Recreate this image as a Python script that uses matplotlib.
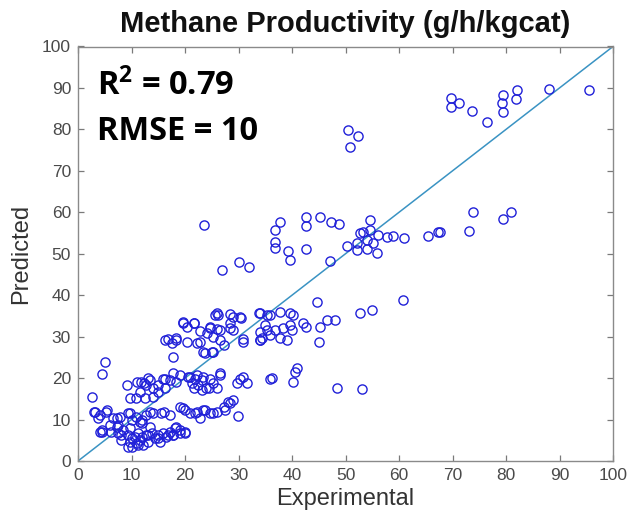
import matplotlib
matplotlib.use("Agg")
import matplotlib.pyplot as plt

plt.rcParams["mathtext.fontset"] = "custom"
plt.rcParams["mathtext.rm"] = "Open Sans:bold"
plt.rcParams["mathtext.bf"] = "Open Sans:bold"
plt.rcParams["mathtext.it"] = "Open Sans:bold"

# ---- data ----
exp_vals = [
    69.7, 69.8, 71.3, 73.7, 76.4, 79.5, 79.3, 79.5, 82.0, 81.9, 88.1, 95.5,
    73.9, 79.5, 80.9, 73.0, 67.7,
    50.5, 52.3, 50.8, 23.5,
    37.8, 36.9, 42.6, 42.6, 45.2, 47.3, 48.7, 36.8, 36.8, 39.3, 39.6, 42.6, 47.1,
    50.2, 52.1, 52.7, 54.6, 54.6, 54.0, 52.1, 54.0, 55.8, 55.2, 56.1, 57.7, 58.9, 61.0, 65.5, 67.3, 53.3,
    44.6, 60.8, 52.7, 54.9, 42.7, 45.2, 46.5, 48.0, 42.1, 45.1,
    35.9, 37.8, 39.6, 40.2, 35.0, 36.8, 38.3, 39.6, 35.9, 37.8, 34.4, 39.0, 40.0,
    36.3, 40.2, 40.6, 41.0, 48.4, 53.0,
    26.9, 30.0, 32.0,
    25.6, 26.2, 28.4, 29.0, 30.5, 33.8, 35.3,
    19.6, 20.4, 21.6, 22.8, 24.1, 24.7, 25.9, 28.4, 29.0, 30.9, 30.9, 34.0, 35.3,
    16.3, 16.9, 17.5, 18.4, 20.3, 22.2, 23.7, 25.3, 26.5, 27.2, 17.7,
    5.0, 4.4, 2.6,
    9.2, 11.0, 11.6, 12.3, 12.8, 13.5, 14.1, 15.0, 15.9, 16.3, 17.2, 17.8, 18.4, 19.1,
    20.6, 21.3, 21.9, 22.5, 23.1, 24.0, 24.7, 25.3, 25.9, 26.5, 29.7, 30.9, 31.5, 35.9,
    2.9, 4.1, 5.4, 6.6, 7.9, 9.4, 10.0, 10.9, 11.9, 12.8, 14.1, 16.0, 17.2, 19.1, 20.0,
    20.9, 22.2, 23.4, 24.7, 25.9, 27.2, 28.4, 29.0, 29.9,
    4.1, 4.4, 6.0, 7.2, 7.5, 8.1, 8.5, 9.4, 9.7, 10.0, 10.7, 11.0, 11.3, 11.6, 11.9, 12.2,
    12.8, 13.1, 13.8, 14.4, 15.0, 15.3, 15.9, 16.5, 17.2, 17.8, 18.4, 19.1, 20.0, 11.9, 13.5, 9.7,
    9.7, 10.9, 11.8, 13.1, 15.0, 16.2, 12.5, 14.0, 3.1, 5.3, 3.7, 7.2, 9.7, 11.5, 13.4, 15.6,
    4.4, 6.2, 8.1, 10.0, 11.2, 9.3, 13.1, 15.0, 16.8, 7.5,
    20.9, 22.2, 23.4, 26.5, 21.6, 23.1, 24.4, 30.3,
    19.7, 21.9, 22.8, 23.7, 25.3, 27.5, 28.1, 18.1, 19.1, 20.0, 17.8,
    25.9, 30.3, 19.7, 21.6, 24.7, 26.5, 28.4, 25.3, 22.8, 18.4, 23.4, 25.0, 34.0, 34.0, 34.0,
]
pred_vals = [
    87.5, 85.5, 86.4, 84.4, 81.7, 88.3, 86.4, 84.1, 89.5, 87.3, 89.7, 89.5,
    60.0, 58.5, 60.0, 55.5, 55.2,
    79.9, 78.4, 75.8, 57.0,
    57.6, 55.7, 58.9, 56.8, 58.8, 57.7, 57.1, 52.9, 51.3, 50.7, 48.5, 51.1, 48.3,
    51.9, 52.5, 54.9, 58.1, 55.7, 53.3, 50.9, 51.1, 50.1, 52.5, 54.5, 54.1, 54.3, 53.7, 54.3, 55.2, 55.3,
    38.3, 38.8, 35.6, 36.4, 32.4, 32.4, 33.9, 33.9, 33.2, 28.6,
    35.2, 35.9, 35.7, 35.2, 32.8, 31.6, 32.1, 32.8, 30.4, 29.7, 29.7, 29.2, 31.6,
    20.1, 19.1, 21.5, 22.4, 17.7, 17.4,
    46.2, 48.1, 46.7,
    35.2, 35.2, 35.4, 34.8, 34.6, 35.6, 35.2,
    33.4, 32.4, 33.2, 31.4, 30.8, 32.4, 31.8, 33.2, 31.6, 29.4, 28.8, 29.2, 31.6,
    29.2, 29.5, 28.4, 29.2, 28.8, 28.5, 26.0, 26.4, 29.2, 28.0, 25.2,
    24.0, 20.9, 15.5,
    18.3, 19.1, 16.7, 18.7, 18.3, 19.5, 17.5, 16.7, 19.9, 17.5, 19.5, 21.2, 19.1, 20.7,
    20.3, 18.7, 19.9, 18.3, 19.5, 17.5, 19.9, 18.7, 17.5, 21.2, 18.7, 20.3, 18.7, 19.9,
    11.9, 11.1, 12.3, 10.3, 10.7, 11.5, 9.9, 10.7, 9.9, 11.1, 11.5, 11.9, 11.1, 13.1, 12.3,
    11.5, 11.9, 12.3, 11.5, 11.9, 13.1, 13.9, 14.7, 10.9,
    7.1, 7.5, 8.7, 8.3, 6.7, 5.1, 7.5, 6.3, 4.7, 3.4, 5.9, 4.3, 6.7, 5.1, 5.9, 3.9,
    6.3, 4.7, 6.7, 5.5, 6.3, 4.7, 6.7, 5.9, 7.1, 6.3, 8.3, 7.5, 6.7, 9.1, 8.3, 7.9,
    15.1, 15.1, 19.1, 20.0, 18.3, 19.9, 15.1, 15.5, 11.9, 11.9, 10.3, 10.3, 11.5, 9.5, 11.9, 11.5,
    7.1, 7.1, 6.3, 5.5, 3.9, 3.4, 6.3, 5.5, 6.3, 8.7,
    20.3, 20.7, 20.3, 20.7, 17.5, 17.1, 17.5, 19.9,
    12.7, 11.5, 10.3, 12.3, 11.5, 12.3, 14.3, 7.9, 6.7, 7.1, 6.3,
    35.6, 34.8, 33.6, 33.2, 32.0, 31.6, 32.0, 30.0, 28.8, 29.6, 26.4, 26.4, 35.6, 31.2, 29.2,
]
ref_line = [0, 100]
xticks = list(range(0, 101, 10))
yticks = list(range(0, 101, 10))
title_text = "Methane Productivity (g/h/kgcat)"
xlabel_text = "Experimental"
ylabel_text = "Predicted"
r2_text = r"R$^{2}$ = 0.79"
rmse_text = "RMSE = 10"

# ---- figure ----
W, H = 629, 518
fig = plt.figure(figsize=(W / 100, H / 100), dpi=100)
ax = fig.add_axes([78 / W, (H - 461) / H, 535 / W, 414.5 / H])

ax.plot(ref_line, ref_line, color="#3a93c3", lw=1.1, zorder=1)
ax.plot(exp_vals, pred_vals, linestyle="none", marker="o", ms=6.6,
        mfc="none", mec="#2020d8", mew=1.0, zorder=2)

ax.set_xlim(0, 100)
ax.set_ylim(0, 100)
ax.set_xticks(xticks)
ax.set_yticks(yticks)

gray = "#4a4a4a"
for s in ax.spines.values():
    s.set_color("#8a8a8a")
    s.set_linewidth(1.0)
ax.tick_params(direction="in", length=4, width=0.9, color="#7a7a7a",
               top=True, right=True, labelsize=12.5, labelcolor=gray, pad=5)
for lab in ax.get_xticklabels() + ax.get_yticklabels():
    lab.set_fontfamily("Liberation Sans")

ax.set_xlabel(xlabel_text, fontsize=17, color="#333333",
              fontfamily="Liberation Sans", labelpad=4)
ax.set_ylabel(ylabel_text, fontsize=17, color="#333333",
              fontfamily="Liberation Sans", labelpad=7)

ax.text(0.5, 1 + (46.5 - 32) / 414.5, title_text, transform=ax.transAxes,
        ha="center", va="baseline", fontsize=21, fontweight="bold",
        fontfamily="Liberation Sans", color="#111111")

ax.text((97 - 78) / 535, (461 - 95) / 414.5, r2_text, transform=ax.transAxes,
        ha="left", va="baseline", fontsize=23.5, fontweight="bold",
        fontfamily="Open Sans", color="black")
ax.text((97 - 78) / 535, (461 - 140) / 414.5, rmse_text, transform=ax.transAxes,
        ha="left", va="baseline", fontsize=23.5, fontweight="bold",
        fontfamily="Open Sans", color="black")

fig.savefig("out.png", dpi=100)
